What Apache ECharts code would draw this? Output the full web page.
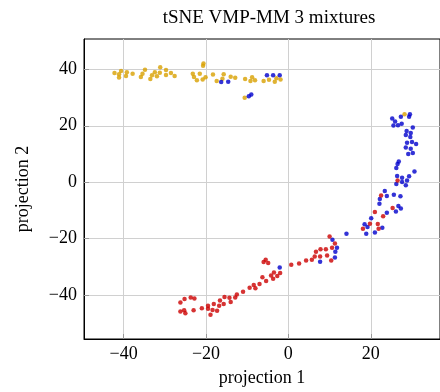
<!DOCTYPE html>
<html>
<head>
<meta charset="utf-8">
<script src="https://cdn.jsdelivr.net/npm/echarts@6/dist/echarts.min.js"></script>
<style>html,body{margin:0;padding:0;background:#fff;}#c{width:440px;height:392px;}</style>
</head>
<body>
<div id="c"></div>
<script>
const titleText = 'tSNE VMP-MM 3 mixtures';
const xName = 'projection 1';
const yName = 'projection 2';
const xTicks = [-40, -20, 0, 20];
const yTicks = [-40, -20, 0, 20, 40];

const orangeX = [-42.2,-41.1,-40.6,-41.1,-39.4,-39.2,-37.8,-35.8,-35.4,-34.8,-33.5,-33.1,-32.4,-31.9,-31.2,-31.1,-29.7,-29.7,-28.5,-27.6,-23.2,-22.9,-22.2,-21.5,-20.7,-20.6,-20.8,-20.1,-18.3,-17.4,-16.0,-15.7,-14.0,-12.9,-10.5,-9.2,-8.8,-8.1,-10.6,-6.0,-4.7,-3.3,-2.9,-1.9,28.2];
const orangeY = [38.7,38.3,39.4,37.1,37.7,39.0,38.5,37.3,38.5,39.9,36.6,37.9,39.0,37.6,38.8,40.8,39.8,38.0,38.7,37.7,38.5,37.3,36.2,38.5,41.3,42.1,36.4,37.2,38.2,35.9,36.7,38.3,37.4,37.0,36.6,35.9,37.2,36.2,29.9,35.9,36.3,35.6,36.9,36.4,24.1];

const blueX = [-16.3,-14.6,-9.6,-9.0,-5.2,-3.7,-2.1,25.2,25.9,27.3,29.3,29.5,25.5,26.6,27.5,30.2,28.7,29.7,28.5,29.6,28.8,30.0,31.0,28.5,29.7,29.1,30.2,26.8,26.5,26.2,30.6,26.4,29.3,27.6,28.8,26.2,27.6,28.5,23.4,23.9,22.2,22.1,25.6,27.2,26.7,27.3,26.1,23.9,20.1,18.5,19.2,22.8,18.9,21.0,14.1,10.7,11.8,11.4,11.3,7.7,-2.1];
const blueY = [35.5,35.6,30.5,31.1,37.9,37.9,37.9,22.6,21.5,23.2,23.2,24.1,20.1,20.2,20.7,19.4,18.1,17.4,16.7,16.0,14.0,14.2,13.5,12.3,11.8,10.0,10.3,7.3,6.4,5.0,3.8,2.2,2.1,1.5,0.6,-0.7,0.0,-1.1,-3.2,-4.9,-6.0,-7.7,-4.5,-5.0,-8.5,-9.4,-10.4,-10.9,-12.8,-15.0,-15.9,-16.2,-18.3,-17.9,-18.3,-20.5,-23.3,-24.7,-26.8,-28.3,-30.3];

const redX = [26.5,22.5,25.3,21.0,23.0,19.8,21.7,18.1,21.9,10.0,11.3,10.6,9.1,7.8,6.7,6.4,7.7,9.4,10.4,5.7,4.3,2.6,0.7,-6.0,-5.5,-4.9,-3.5,-2.0,-4.2,-2.7,-3.7,-6.3,-5.4,-7.0,-8.4,-8.0,-9.4,-11.0,-12.5,-12.9,-14.3,-15.5,-14.0,-16.6,-15.7,-16.8,-18.1,-19.5,-19.5,-18.4,-17.3,-18.9,-21.0,-23.0,-22.8,-23.7,-25.2,-26.2,-26.2,-25.3,-25.0];
const redY = [0.6,-4.8,-9.2,-10.6,-12.1,-14.8,-14.9,-16.6,-16.6,-19.3,-21.8,-23.3,-23.8,-23.8,-24.7,-26.4,-26.4,-26.1,-27.8,-27.6,-27.8,-28.9,-29.3,-28.4,-27.6,-28.7,-32.1,-32.3,-33.2,-33.3,-34.3,-33.8,-35.1,-36.2,-36.5,-37.7,-37.5,-38.9,-39.9,-41.0,-41.1,-40.8,-42.6,-42.0,-43.3,-43.9,-43.3,-43.9,-45.0,-45.4,-45.7,-47.1,-44.8,-45.5,-41.3,-41.0,-41.5,-42.7,-45.9,-45.5,-46.6];

function pairs(xs, ys) { return xs.map((x, i) => [x, ys[i]]); }
const FONT = 'Liberation Serif';
const fmt = v => String(v).replace('-', '\u2212');

const chart = echarts.init(document.getElementById('c'), null, {renderer: 'canvas'});
chart.setOption({
  animation: false,
  backgroundColor: '#fff',
  title: {
    text: titleText, left: 264, top: 4, textAlign: 'center',
    textStyle: {fontFamily: FONT, fontSize: 19, fontWeight: 'normal', color: '#000'}
  },
  grid: {left: 84, top: 39, right: -1, bottom: 53, show: true, borderColor: '#000', borderWidth: 1, backgroundColor: 'transparent'},
  xAxis: {
    type: 'value', min: -49.6, max: 36.8,
    name: xName, nameLocation: 'middle', nameGap: 30,
    nameTextStyle: {fontFamily: FONT, fontSize: 18, color: '#000'},
    axisLine: {show: true, onZero: false, lineStyle: {color: '#000', width: 1}},
    axisTick: {show: true, inside: true, length: 5, customValues: xTicks, lineStyle: {color: '#999'}},
    axisLabel: {customValues: xTicks, formatter: fmt, fontFamily: FONT, fontSize: 18, color: '#000', margin: 6},
    splitLine: {show: true, lineStyle: {color: '#d0d0d0', width: 1}}
  },
  yAxis: {
    type: 'value', min: -55.7, max: 50.8,
    name: yName, nameLocation: 'middle', nameGap: 52, nameRotate: 90,
    nameTextStyle: {fontFamily: FONT, fontSize: 18, color: '#000'},
    axisLine: {show: true, onZero: false, lineStyle: {color: '#000', width: 1}},
    axisTick: {show: true, inside: true, length: 5, customValues: yTicks, lineStyle: {color: '#999'}},
    axisLabel: {customValues: yTicks, formatter: fmt, fontFamily: FONT, fontSize: 18, color: '#000', margin: 7},
    splitLine: {show: true, lineStyle: {color: '#d0d0d0', width: 1}}
  },
  series: [
    {type: 'scatter', name: 'orange', data: pairs(orangeX, orangeY), symbolSize: 4.5, itemStyle: {color: '#D8A000'}},
    {type: 'scatter', name: 'blue', data: pairs(blueX, blueY), symbolSize: 4.5, itemStyle: {color: '#0000CC'}},
    {type: 'scatter', name: 'red', data: pairs(redX, redY), symbolSize: 4.5, itemStyle: {color: '#CC0000'}}
  ]
});
</script>
</body>
</html>
